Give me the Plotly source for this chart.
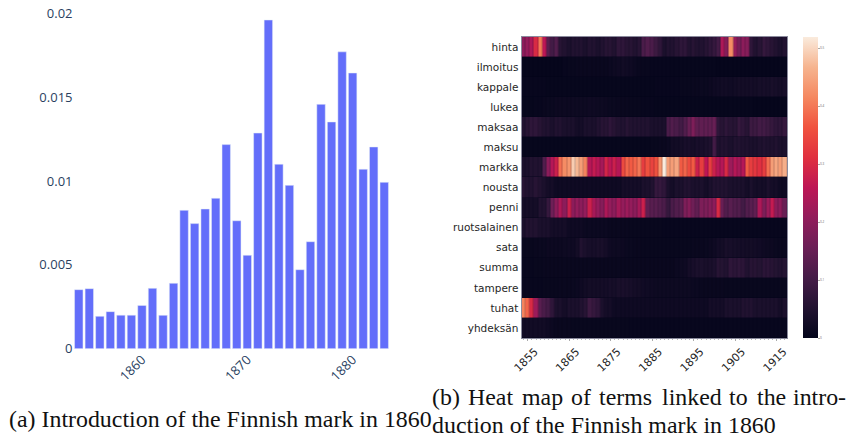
import plotly.graph_objects as go

years = list(range(1854, 1884))
mark_share = [.00352, .00358, .00193, .00221, .00200, .00200, .00258, .00360, .00199, .00390,
              .00825, .00746, .00833, .00897, .01217, .00763, .00557, .01286, .01960, .01100,
              .00974, .00471, .00638, .01457, .01352, .01770, .01644, .01070, .01203, .00992]

terms = ["hinta", "ilmoitus", "kappale", "lukea", "maksaa", "maksu", "markka", "nousta",
         "penni", "ruotsalainen", "sata", "summa", "tampere", "tuhat", "yhdeksän"]
heat_years = list(range(1854, 1918))

hinta = [.20, .21, .24, .30, .40, .26, .13, .10, .12, .06, .05, .04, .05, .05, .05, .04,
         .05, .05, .04, .05, .06, .06, .05, .07, .07, .06, .06, .05, .06, .11, .12, .11,
         .09, .07, .04, .05, .05, .06, .07, .07, .05, .06, .05, .05, .06, .07, .08, .10,
         .24, .19, .42, .21, .17, .20, .19, .07, .05, .06, .08, .07, .06, .05, .04, .05]
ilmoitus = [.005, .005, .005, .005, .005, .005, .005, .005, .005, .005, .008, .010, .010, .012, .012, .012,
            .012, .012, .012, .012, .012, .015, .018, .020, .025, .022, .020, .015, .012, .010, .010, .008,
            .008, .008, .008, .008, .007, .007, .007, .006, .006, .006, .006, .006, .006, .006, .006, .005,
            .005, .005, .005, .005, .005, .005, .005, .005, .005, .005, .005, .005, .005, .005, .005, .005]
kappale = [.008, .008, .008, .008, .008, .008, .006, .006, .006, .006, .006, .006, .006, .006, .006, .006,
           .006, .006, .006, .006, .006, .006, .006, .006, .006, .006, .006, .006, .006, .006, .006, .006,
           .008, .008, .008, .008, .008, .008, .010, .010, .010, .012, .012, .014, .014, .016, .020, .022,
           .025, .025, .022, .025, .028, .028, .028, .030, .028, .032, .034, .032, .036, .034, .030, .034]
lukea = [.006, .006, .006, .008, .008, .012, .014, .014, .016, .016, .016, .016, .018, .018, .018, .018,
         .020, .020, .018, .018, .016, .014, .014, .012, .012, .012, .010, .010, .010, .008, .008, .008,
         .006, .006, .006, .006, .006, .006, .006, .006, .006, .006, .006, .006, .006, .006, .006, .006,
         .006, .006, .006, .006, .006, .006, .006, .006, .005, .005, .005, .005, .005, .005, .005, .005]
maksaa = [.05, .06, .07, .07, .06, .05, .05, .04, .05, .05, .04, .04, .04, .03, .03, .04,
          .04, .04, .05, .06, .06, .07, .06, .05, .05, .06, .05, .05, .05, .05, .05, .04,
          .04, .04, .04, .11, .12, .11, .10, .12, .15, .18, .14, .14, .14, .14, .15, .07,
          .06, .07, .06, .06, .08, .07, .06, .09, .09, .10, .10, .09, .08, .07, .07, .08]
maksu = [.006, .006, .006, .006, .006, .006, .006, .006, .006, .006, .006, .006, .006, .006, .006, .006,
         .006, .006, .006, .006, .006, .006, .006, .006, .006, .006, .006, .006, .006, .006, .006, .010,
         .010, .012, .012, .015, .025, .025, .030, .035, .035, .030, .035, .035, .040, .045, .100, .045,
         .050, .050, .040, .050, .050, .045, .045, .040, .040, .045, .050, .045, .045, .050, .040, .040]
markka = [.04, .04, .05, .05, .05, .12, .20, .25, .28, .39, .42, .43, .49, .47, .44, .41,
          .25, .27, .25, .23, .29, .26, .28, .25, .35, .38, .37, .38, .40, .33, .36, .34,
          .36, .43, .52, .44, .44, .45, .37, .38, .35, .37, .28, .33, .26, .33, .28, .25,
          .25, .30, .22, .25, .23, .25, .37, .33, .32, .31, .33, .39, .44, .45, .44, .46]
nousta = [.06, .05, .05, .06, .05, .04, .03, .03, .02, .02, .02, .02, .02, .02, .02, .02,
          .02, .02, .02, .02, .02, .02, .02, .02, .03, .03, .03, .03, .03, .04, .04, .05,
          .08, .08, .07, .04, .03, .04, .04, .05, .05, .04, .04, .04, .03, .04, .05, .05,
          .05, .05, .04, .04, .04, .04, .03, .04, .03, .03, .03, .04, .03, .03, .02, .02]
penni = [.03, .03, .03, .03, .05, .05, .08, .16, .20, .24, .20, .28, .20, .21, .20, .21,
         .28, .23, .21, .19, .24, .21, .20, .23, .21, .22, .21, .20, .23, .28, .14, .13,
         .13, .12, .11, .08, .11, .12, .13, .18, .19, .16, .14, .18, .18, .19, .20, .30,
         .15, .12, .13, .12, .12, .10, .12, .13, .14, .24, .18, .22, .27, .20, .20, .15]
ruotsalainen = [.04, .05, .05, .05, .04, .04, .04, .03, .03, .03, .03, .02, .02, .02, .02, .015,
                .015, .015, .015, .015, .015, .012, .012, .012, .012, .012, .010, .010, .010, .010, .010, .010,
                .010, .010, .008, .008, .008, .008, .008, .008, .008, .008, .008, .008, .008, .008, .008, .008,
                .008, .008, .008, .008, .008, .008, .008, .008, .008, .008, .008, .008, .008, .008, .008, .008]
sata = [.010, .010, .010, .012, .014, .014, .016, .016, .016, .016, .018, .020, .020, .028, .050, .040,
        .034, .034, .036, .036, .030, .020, .018, .018, .016, .014, .014, .012, .012, .010, .010, .010,
        .010, .010, .010, .010, .010, .010, .010, .010, .010, .012, .012, .012, .014, .016, .020, .026,
        .028, .036, .034, .032, .030, .030, .028, .028, .026, .024, .020, .018, .016, .014, .012, .012]
summa = [.008, .008, .008, .010, .010, .012, .012, .012, .012, .012, .012, .012, .012, .012, .012, .012,
         .012, .012, .012, .012, .012, .012, .012, .012, .012, .012, .012, .012, .012, .012, .012, .012,
         .012, .012, .012, .012, .012, .015, .018, .020, .030, .035, .040, .040, .036, .038, .042, .060,
         .055, .050, .070, .065, .070, .065, .050, .060, .060, .055, .065, .065, .060, .055, .050, .055]
tampere = [.008, .008, .008, .008, .008, .010, .010, .010, .010, .012, .012, .012, .014, .015, .020, .025,
           .028, .028, .028, .030, .030, .034, .032, .036, .038, .036, .034, .030, .028, .024, .022, .020,
           .018, .018, .018, .018, .018, .018, .018, .018, .018, .015, .015, .012, .012, .012, .012, .012,
           .012, .010, .010, .010, .010, .010, .010, .010, .010, .010, .010, .010, .010, .010, .010, .010]
tuhat = [.41, .38, .30, .22, .13, .11, .10, .07, .04, .04, .03, .04, .04, .04, .05, .06,
         .09, .08, .07, .04, .03, .03, .02, .02, .02, .02, .02, .02, .02, .02, .02, .02,
         .02, .02, .02, .02, .02, .02, .02, .02, .02, .02, .02, .02, .02, .03, .03, .03,
         .03, .04, .04, .04, .04, .05, .05, .05, .04, .04, .04, .04, .04, .04, .03, .04]
yhdeksan = [.025, .025, .025, .025, .025, .025, .020, .015, .012, .012, .012, .012, .010, .010, .010, .010,
            .010, .010, .010, .010, .010, .010, .010, .010, .010, .010, .008, .008, .008, .008, .008, .008,
            .008, .008, .008, .008, .008, .008, .008, .008, .008, .008, .008, .008, .008, .008, .008, .008,
            .008, .008, .008, .008, .008, .008, .008, .008, .008, .008, .008, .008, .008, .008, .008, .008]

heat_values = [hinta, ilmoitus, kappale, lukea, maksaa, maksu, markka, nousta, penni,
               ruotsalainen, sata, summa, tampere, tuhat, yhdeksan]

rocket = [[0.0, "#03051a"], [0.1, "#221331"], [0.2, "#451c47"], [0.3, "#6b1f56"],
          [0.4, "#921c5b"], [0.5, "#bd1655"], [0.6, "#e0303f"], [0.7, "#f0533f"],
          [0.8, "#f58860"], [0.9, "#f6b48f"], [1.0, "#faebdd"]]

W, H = 849, 439

fig = go.Figure()

fig.add_trace(go.Bar(x=years, y=mark_share, marker_color="#636efa", xaxis="x", yaxis="y"))

fig.add_trace(go.Heatmap(
    x=heat_years, y=terms, z=heat_values, xaxis="x2", yaxis="y2",
    zmin=0, zmax=0.519, colorscale=rocket, xgap=0.2, ygap=0.4,
    colorbar=dict(
        x=803 / W, xanchor="left", y=1 - 37 / H, yanchor="top",
        thicknessmode="pixels", thickness=15, lenmode="pixels", len=301,
        outlinewidth=0, tick0=0.1, dtick=0.1, ticks="outside", ticklen=2, tickwidth=1,
        tickcolor="#aaaaaa", tickfont=dict(size=3, color="#666666"), xpad=0, ypad=0,
    ),
))

# dark backing so the cell gaps read as dark seams
fig.add_shape(type="rect", xref="x2 domain", yref="y2 domain", x0=0, x1=1, y0=0, y1=1,
              layer="below", fillcolor="#03051a", line_width=0)

fig.update_layout(
    width=W, height=H,
    margin=dict(l=0, r=0, t=0, b=0, autoexpand=False),
    paper_bgcolor="white", plot_bgcolor="white",
    showlegend=False, bargap=0.2,
    font=dict(family="Open Sans", color="#2a3f5f", size=13),
    xaxis=dict(
        domain=[73.5 / W, 389.5 / W], range=[1853.5, 1883.5], anchor="y",
        tick0=1860, dtick=10, tickangle=-45, showgrid=False, zeroline=False,
        ticks="", tickfont=dict(size=13),
    ),
    yaxis=dict(
        domain=[1 - 348.7 / H, 1 - 13.3 / H], range=[0, 0.02], anchor="x",
        tickvals=[0, 0.005, 0.01, 0.015, 0.02], ticktext=["0", "0.005", "0.01", "0.015", "0.02"],
        showgrid=False, zeroline=False, ticks="", tickfont=dict(size=13),
    ),
    xaxis2=dict(
        domain=[521.5 / W, 787 / W], range=[1853.5, 1917.5], anchor="y2",
        tick0=1855, dtick=10, tickangle=-45, showgrid=False, zeroline=False,
        ticks="outside", ticklen=2, tickcolor="#aaaaaa", ticklabelshift=7,
        tickfont=dict(family="DejaVu Sans", size=11, color="#262626"),
        minor=dict(dtick=1, tick0=1855, ticks="outside", ticklen=1, tickcolor="#bbbbbb"),
        showline=True, linecolor="#8a8a9c", linewidth=1, mirror=True,
    ),
    yaxis2=dict(
        domain=[1 - 338 / H, 1 - 37 / H], autorange="reversed", anchor="x2",
        showgrid=False, zeroline=False, ticks="", dtick=1,
        tickfont=dict(family="DejaVu Sans", size=10.5, color="#262626"),
        showline=True, linecolor="#8a8a9c", linewidth=1, mirror=True,
    ),
)

# the first line of (b) is justified in the paper, so its words are placed one by one
captions = [
    ("(a) Introduction of the Finnish mark in 1860", 9, 419),
    ("(b)", 432, 397), ("Heat", 468, 397), ("map", 521.5, 397), ("of", 570.5, 397),
    ("terms", 599, 397), ("linked", 661.5, 397), ("to", 728.5, 397), ("the", 756.5, 397),
    ("intro-", 793, 397),
    ("duction of the Finnish mark in 1860", 432, 425),
]
for text, left, mid in captions:
    fig.add_annotation(
        text=text, xref="paper", yref="paper", x=left / W, y=1 - mid / H,
        xanchor="left", yanchor="middle", showarrow=False,
        font=dict(family="Liberation Serif", size=23.9, color="#111111"),
        borderpad=0, borderwidth=0,
    )

fig.write_html("out.html", config={"displayModeBar": False},
               post_script="document.body.style.margin='0';")
